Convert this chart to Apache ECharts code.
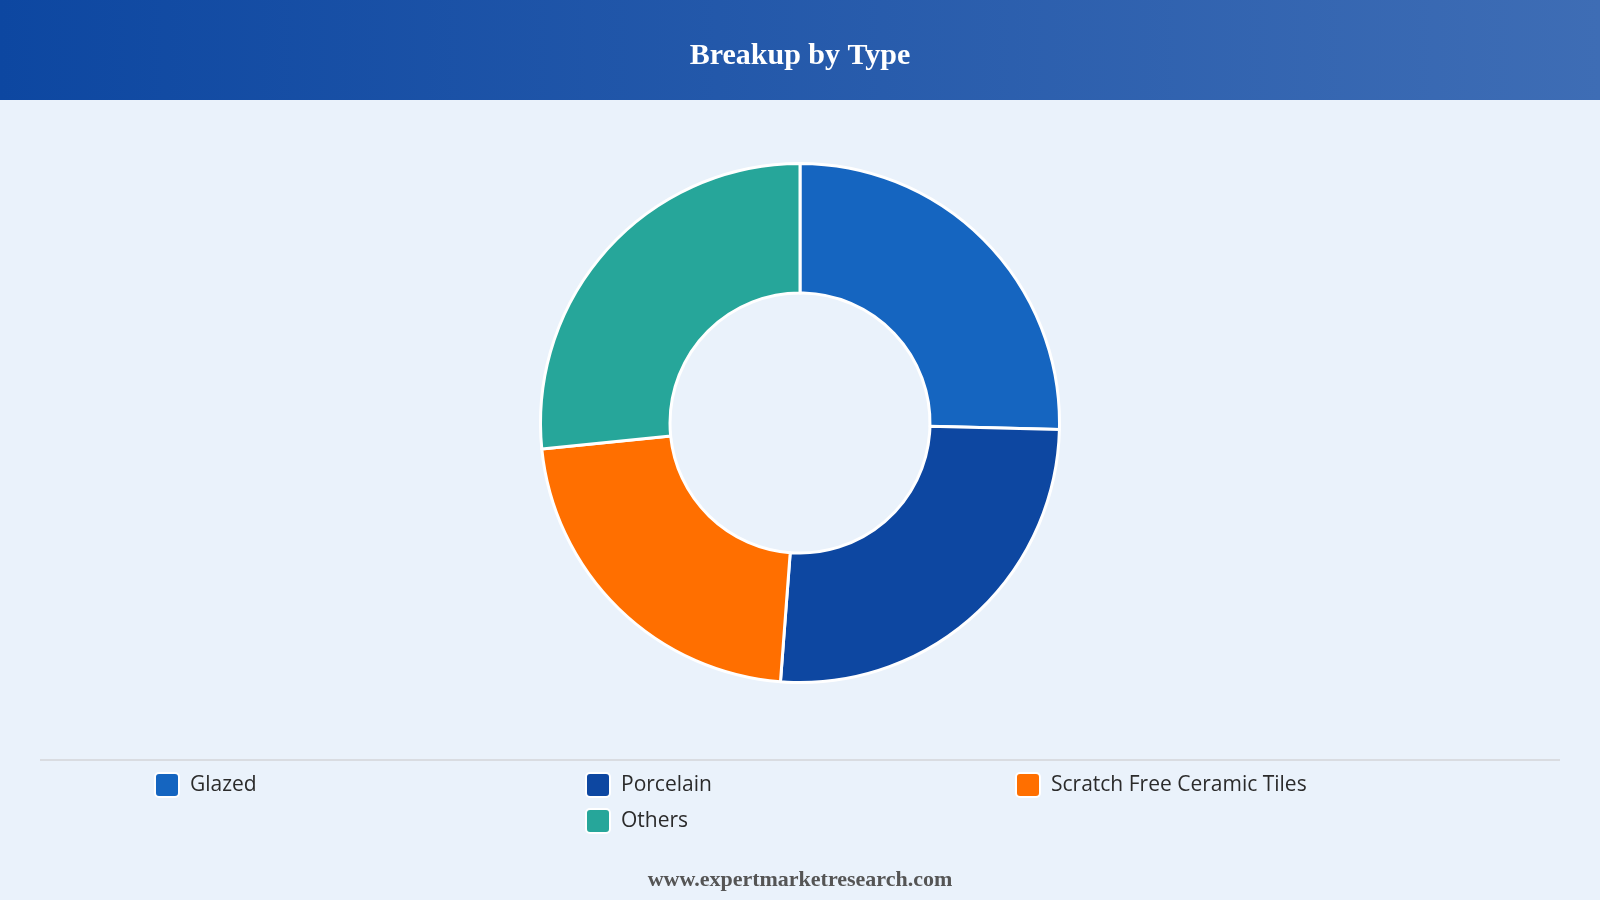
<!DOCTYPE html>
<html>
<head>
<meta charset="utf-8">
<script src="https://cdn.jsdelivr.net/npm/echarts@6/dist/echarts.min.js"></script>
<style>
html,body{margin:0;padding:0;background:#EAF2FB;}
#chart{width:1600px;height:900px;}
</style>
</head>
<body>
<div id="chart"></div>
<script>
const categories = ['Glazed', 'Porcelain', 'Scratch Free Ceramic Tiles', 'Others'];
const values = [25.4, 25.8, 22.2, 26.6];
const colors = ['#1565C0', '#0D47A1', '#FF6F00', '#26A69A'];
const titleText = 'Breakup by Type';
const footerText = 'www.expertmarketresearch.com';

const legendPos = [
  {left: 154, top: 772},
  {left: 585, top: 772},
  {left: 1015, top: 772},
  {left: 585, top: 808}
];

const chart = echarts.init(document.getElementById('chart'));
const option = {
  backgroundColor: '#EAF2FB',
  title: {
    text: titleText,
    left: 'center',
    top: 36,
    textStyle: {
      color: '#ffffff',
      fontFamily: '"Liberation Serif", "Times New Roman", serif',
      fontWeight: 'bold',
      fontSize: 30
    }
  },
  graphic: [
    {
      type: 'rect',
      z: -1,
      shape: {x: 0, y: 0, width: 1600, height: 100},
      style: {
        fill: new echarts.graphic.LinearGradient(0, 0, 1, 0, [
          {offset: 0, color: '#0D47A1'},
          {offset: 1, color: '#3E6DB5'}
        ])
      }
    },
    {
      type: 'line',
      shape: {x1: 40, y1: 760, x2: 1560, y2: 760},
      style: {stroke: '#D9DCE1', lineWidth: 2}
    },
    {
      type: 'text',
      left: 'center',
      top: 869,
      style: {
        text: footerText,
        fill: '#555555',
        font: 'bold 22px "Liberation Serif", "Times New Roman", serif'
      }
    }
  ],
  legend: categories.map((c, i) => ({
    data: [c],
    left: legendPos[i].left,
    top: legendPos[i].top,
    padding: 0,
    itemWidth: 24,
    itemHeight: 24,
    itemGap: 10,
    icon: 'path://M4,0 H20 A4,4 0 0 1 24,4 V20 A4,4 0 0 1 20,24 H4 A4,4 0 0 1 0,20 V4 A4,4 0 0 1 4,0 Z',
    selectedMode: false,
    textStyle: {
      color: '#2b2b2b',
      fontSize: 21,
      padding: [0, 0, 0, 6],
      fontFamily: '"Open Sans", "Noto Sans", sans-serif'
    }
  })),
  series: [{
    type: 'pie',
    center: [800, 423],
    radius: [130, 259.5],
    startAngle: 90,
    clockwise: true,
    avoidLabelOverlap: false,
    label: {show: false},
    labelLine: {show: false},
    itemStyle: {borderColor: '#ffffff', borderWidth: 3},
    emphasis: {disabled: true},
    data: categories.map((c, i) => ({name: c, value: values[i], itemStyle: {color: colors[i]}}))
  }]
};
chart.setOption(option);
</script>
</body>
</html>
